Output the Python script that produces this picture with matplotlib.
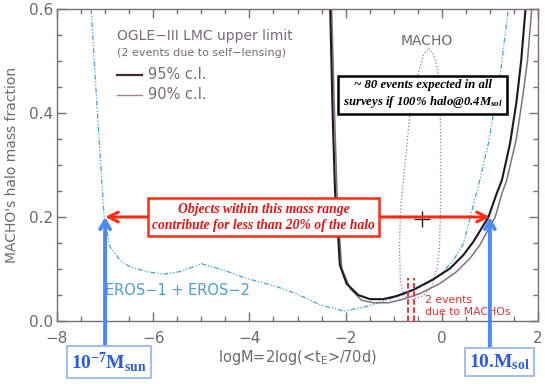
import numpy as np
import matplotlib.pyplot as plt
from matplotlib.ticker import MultipleLocator

plt.rcParams['font.family'] = 'DejaVu Sans'
plt.rcParams['mathtext.fontset'] = 'custom'
plt.rcParams['mathtext.rm'] = 'Liberation Serif:bold'
plt.rcParams['mathtext.it'] = 'Liberation Serif:italic:bold'
plt.rcParams['mathtext.bf'] = 'Liberation Serif:bold'
plt.rcParams['mathtext.sf'] = 'DejaVu Sans'

##===================== data =====================
# EROS-1 + EROS-2 limit
eros_x = [-7.29, -7.16, -7.02, -6.90, -6.69, -6.48, -6.14, -5.79, -5.44, -4.99,
          -4.54, -4.06, -3.43, -3.04, -2.53, -2.03, -1.56, -1.15, -0.73, -0.31,
          -0.04, 0.24, 0.45, 0.62, 0.79, 0.97, 1.22, 1.38]
eros_y = [0.60, 0.40, 0.20, 0.143, 0.117, 0.104, 0.095, 0.090, 0.095, 0.110,
          0.098, 0.082, 0.066, 0.053, 0.031, 0.019, 0.028, 0.040, 0.053, 0.072,
          0.088, 0.117, 0.149, 0.21, 0.271, 0.342, 0.477, 0.598]

# OGLE-III 95% c.l.
c95_x = [-2.32, -2.27, -2.22, -2.15, -2.12, -1.98, -1.74, -1.49, -1.22, -0.94,
         -0.59, -0.18, 0.17, 0.45, 0.66, 0.97, 1.14, 1.25, 1.42, 1.55, 1.65, 1.74]
c95_y = [0.60, 0.40, 0.25, 0.156, 0.108, 0.072, 0.050, 0.042, 0.042, 0.048,
         0.060, 0.080, 0.101, 0.127, 0.153, 0.200, 0.245, 0.271, 0.342, 0.42, 0.50, 0.60]

# OGLE-III 90% c.l.
c90_x = [-2.29, -2.23, -2.18, -2.12, -2.08, -1.91, -1.67, -1.42, -1.11, -0.80,
         -0.45, -0.04, 0.31, 0.59, 0.79, 1.11, 1.25, 1.35, 1.55, 1.68, 1.78, 1.87]
c90_y = [0.60, 0.40, 0.25, 0.156, 0.101, 0.063, 0.040, 0.035, 0.035, 0.042,
         0.053, 0.072, 0.095, 0.121, 0.146, 0.200, 0.245, 0.271, 0.35, 0.43, 0.50, 0.60]

# MACHO contour
macho_x = [-0.27, -0.16, -0.08, -0.04, -0.02, -0.02, -0.03, -0.05, -0.10, -0.22,
           -0.40, -0.60, -0.78, -0.86, -0.88, -0.86, -0.80, -0.73, -0.66, -0.59,
           -0.49, -0.38, -0.27]
macho_y = [0.525, 0.51, 0.48, 0.42, 0.35, 0.27, 0.20, 0.14, 0.10, 0.065,
           0.048, 0.042, 0.048, 0.075, 0.14, 0.21, 0.27, 0.335, 0.40, 0.43,
           0.476, 0.512, 0.525]
macho_best = (-0.42, 0.197)

# 2 events due to MACHOs
ev_x = [-0.70, -0.57]
ev_top = 0.083

# mass range limits
m_lo, m_hi, frac = -7.0, 1.0, 0.2

##===================== plot =====================
axcol = '#7b6b7b'
txtcol = '#6a6a6a'

fig = plt.figure(figsize=(5.45, 3.84), dpi=100)
ax = fig.add_axes([57/545, 63/384, 481/545, 312/384])

ax.plot(eros_x, eros_y, c='#3fa6d8', lw=0.9, dashes=(4, 1.5, 1, 1.5, 1, 1.5))
ax.plot(macho_x, macho_y, c='#9a70b8', lw=0.9, ls=':')
ax.plot(c90_x, c90_y, c='#84707e', lw=1.1)
ax.plot(c95_x, c95_y, c='#221522', lw=1.5)
ax.plot(*macho_best, marker='+', ms=11, mew=1.0, c='#222222')
for xx in ev_x:
    ax.plot([xx, xx], [0, ev_top], c='#e82020', lw=1.3, ls=(0, (3, 1.5)))

ax.set_xlim(-8, 2)
ax.set_ylim(0, 0.6)
ax.xaxis.set_major_locator(MultipleLocator(2))
ax.xaxis.set_minor_locator(MultipleLocator(0.5))
ax.yaxis.set_major_locator(MultipleLocator(0.2))
ax.yaxis.set_minor_locator(MultipleLocator(0.05))
ax.yaxis.set_major_formatter(plt.FormatStrFormatter('%.1f'))
ax.tick_params(which='both', direction='in', top=True, right=True, color=axcol,
               labelcolor=txtcol, labelsize=11)
ax.tick_params(which='major', length=6.5, width=1)
ax.tick_params(which='minor', length=3.5, width=1)
ax.tick_params(axis='x', pad=7)
ax.tick_params(axis='y', pad=3)
for s in ax.spines.values():
    s.set_color(axcol)
    s.set_linewidth(1.0)

ax.set_xlabel(r'logM=2log(<t$_{\mathsf{E}}$>/70d)', fontsize=10.5, color=txtcol)
ax.xaxis.set_label_coords(0.499, -0.088)
ax.set_ylabel("MACHO's halo mass fraction", fontsize=10, color=txtcol)
ax.yaxis.set_label_coords(-0.080, 0.5)

# legend drawn by hand like the original
lgcol = '#7a6a7a'
ax.text(-6.75, 0.549, 'OGLE\u2212III LMC upper limit', fontsize=10, color=lgcol, va='center')
ax.text(-6.75, 0.516, '(2 events due to self\u2212lensing)', fontsize=8, color=lgcol, va='center')
ax.plot([-6.75, -6.24], [0.474, 0.474], c='#3a2a3a', lw=1.6)
ax.plot([-6.75, -6.24], [0.435, 0.435], c='#a0809a', lw=1.0)
ax.text(-6.11, 0.474, '95% c.l.', fontsize=10.5, color=lgcol, va='center')
ax.text(-6.11, 0.435, '90% c.l.', fontsize=10.5, color=lgcol, va='center')

ax.text(-0.31, 0.539, 'MACHO', fontsize=10, color=txtcol, ha='center', va='center')
ax.text(-7.0, 0.058, 'EROS\u22121 + EROS\u22122', fontsize=10.5, color='#4aa0d0', va='center')
ax.text(-0.35, 0.040, '2 events', fontsize=7.8, color='#e83030', va='center')
ax.text(-0.35, 0.018, 'due to MACHOs', fontsize=7.8, color='#e83030', va='center')

# black box
ax.text(-0.40, 0.436, '~ 80 events expected in all\nsurveys if 100% halo@0.4M$_{sol}$',
        family='Liberation Serif', style='italic', weight='bold', fontsize=9.2,
        ha='center', va='center', linespacing=1.25,
        bbox=dict(boxstyle='square,pad=0.35', fc='white', ec='black', lw=1.8))

# red double arrow and box
ax.annotate('', xy=(m_hi, frac), xytext=(m_lo, frac),
            arrowprops=dict(arrowstyle='<->,head_length=0.7,head_width=0.35',
                            color='#ff2a10', lw=2.2, shrinkA=0, shrinkB=0))
ax.text(-3.71, 0.2, 'Objects within this mass range\ncontribute for less than 20% of the halo',
        family='Liberation Serif', style='italic', weight='bold', fontsize=9.8,
        color='#ee1010', ha='center', va='center', linespacing=1.3,
        bbox=dict(boxstyle='square,pad=0.3', fc='white', ec='#ff2a10', lw=1.8))

# blue arrows and labels
for xx, lab, xt in [(m_lo, r'10$^{\mathbf{-7}}$M$_{\mathbf{sun}}$', -6.92),
                    (m_hi, r'10.M$_{\mathbf{sol}}$', 1.20)]:
    ax.annotate('', xy=(xx, frac), xytext=(xx, -0.05), annotation_clip=False,
                arrowprops=dict(arrowstyle='->,head_length=0.6,head_width=0.35',
                                color='#4a8af8', lw=2.8, shrinkA=0, shrinkB=0))
    ax.text(xt, -0.079, lab, family='Liberation Serif', weight='bold', fontsize=14,
            color='#2a5ae8', ha='center', va='center', clip_on=False,
            bbox=dict(boxstyle='square,pad=0.2', fc='white', ec='#9ab8f0', lw=1.3))

fig.savefig('out.png', dpi=100)
